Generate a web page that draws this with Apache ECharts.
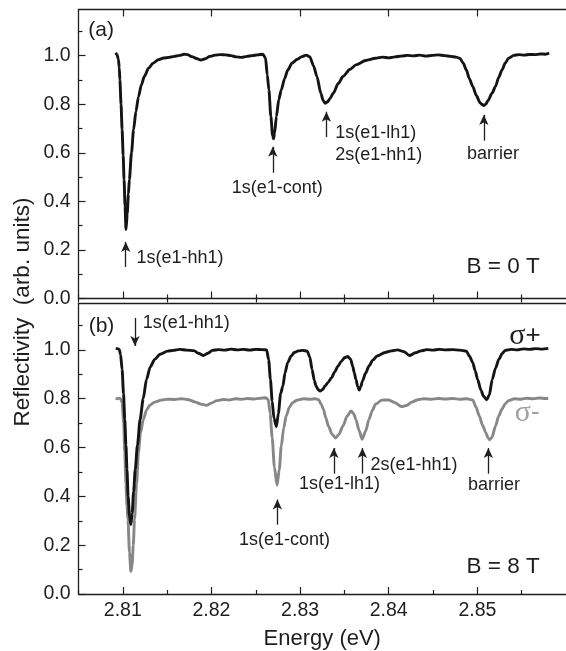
<!DOCTYPE html>
<html>
<head>
<meta charset="utf-8">
<script src="https://cdn.jsdelivr.net/npm/echarts@6/dist/echarts.min.js"></script>
<style>
  html, body { margin: 0; padding: 0; background: #ffffff; }
  #chart { width: 566px; height: 651px; }
</style>
</head>
<body>
<div id="chart"></div>
<script>
// Reflectivity spectra, B = 0 T (panel a)
const energyZero = [
  2.80920, 2.80935, 2.80950, 2.80960, 2.80967, 2.80980, 2.80992, 2.81004, 2.81014, 2.81025,
  2.81036, 2.81050, 2.81063, 2.81074, 2.81098, 2.81121, 2.81148, 2.81176, 2.81210, 2.81242,
  2.81290, 2.81341, 2.81400, 2.81460, 2.81520, 2.81580, 2.81640, 2.81690, 2.81730, 2.81780,
  2.81830, 2.81880, 2.81930, 2.81980, 2.82040, 2.82100, 2.82160, 2.82220, 2.82280, 2.82340,
  2.82400, 2.82460, 2.82520, 2.82580, 2.82610, 2.82630, 2.82648, 2.82670, 2.82690, 2.82700,
  2.82712, 2.82733, 2.82760, 2.82788, 2.82825, 2.82860, 2.82910, 2.82970, 2.83020, 2.83070,
  2.83110, 2.83150, 2.83190, 2.83234, 2.83260, 2.83282, 2.83310, 2.83340, 2.83374, 2.83430,
  2.83484, 2.83560, 2.83630, 2.83740, 2.83850, 2.83930, 2.84000, 2.84070, 2.84140, 2.84210,
  2.84280, 2.84350, 2.84420, 2.84490, 2.84560, 2.84630, 2.84700, 2.84760, 2.84802, 2.84840,
  2.84876, 2.84910, 2.84948, 2.84990, 2.85030, 2.85050, 2.85072, 2.85095, 2.85120, 2.85165,
  2.85205, 2.85240, 2.85278, 2.85315, 2.85352, 2.85410, 2.85470, 2.85530, 2.85590, 2.85650,
  2.85710, 2.85770, 2.85810
];
const reflZero = [
  1.012, 1.004, 0.985, 0.950, 0.900, 0.800, 0.695, 0.590, 0.490, 0.380,
  0.284, 0.350, 0.430, 0.490, 0.600, 0.695, 0.770, 0.830, 0.880, 0.914,
  0.948, 0.969, 0.983, 0.990, 0.993, 0.997, 1.001, 1.006, 1.004, 0.996,
  0.988, 0.982, 0.987, 0.997, 1.002, 1.004, 1.003, 1.000, 0.995, 0.993,
  0.997, 1.000, 1.003, 1.006, 0.990, 0.920, 0.859, 0.750, 0.670, 0.658,
  0.680, 0.750, 0.820, 0.859, 0.905, 0.940, 0.970, 0.985, 0.996, 1.002,
  0.995, 0.960, 0.914, 0.845, 0.815, 0.804, 0.810, 0.825, 0.845, 0.885,
  0.914, 0.943, 0.962, 0.980, 0.989, 0.994, 0.991, 0.995, 0.998, 1.001,
  0.999, 1.002, 0.998, 1.001, 1.003, 1.000, 0.997, 0.994, 0.989, 0.970,
  0.941, 0.905, 0.873, 0.835, 0.806, 0.800, 0.795, 0.800, 0.815, 0.845,
  0.873, 0.910, 0.941, 0.970, 0.989, 1.001, 1.004, 1.002, 1.005, 1.004,
  1.007, 1.006, 1.010
];

// B = 8 T, sigma+ polarisation (panel b, black)
const energyPlus = [
  2.80920, 2.80940, 2.80960, 2.80975, 2.80992, 2.81008, 2.81022, 2.81035, 2.81047, 2.81060,
  2.81075, 2.81091, 2.81105, 2.81122, 2.81140, 2.81165, 2.81195, 2.81230, 2.81267, 2.81310,
  2.81359, 2.81420, 2.81505, 2.81570, 2.81640, 2.81720, 2.81800, 2.81860, 2.81909, 2.81960,
  2.82010, 2.82080, 2.82150, 2.82220, 2.82290, 2.82360, 2.82430, 2.82500, 2.82570, 2.82623,
  2.82645, 2.82665, 2.82685, 2.82705, 2.82733, 2.82755, 2.82780, 2.82806, 2.82830, 2.82860,
  2.82900, 2.82934, 2.82980, 2.83030, 2.83080, 2.83110, 2.83135, 2.83160, 2.83180, 2.83205,
  2.83227, 2.83255, 2.83282, 2.83318, 2.83355, 2.83390, 2.83429, 2.83465, 2.83502, 2.83538,
  2.83570, 2.83593, 2.83612, 2.83630, 2.83650, 2.83667, 2.83685, 2.83703, 2.83740, 2.83777,
  2.83820, 2.83868, 2.83959, 2.84030, 2.84100, 2.84170, 2.84234, 2.84300, 2.84363, 2.84430,
  2.84500, 2.84570, 2.84640, 2.84720, 2.84800, 2.84876, 2.84910, 2.84948, 2.84975, 2.85003,
  2.85040, 2.85070, 2.85105, 2.85135, 2.85168, 2.85205, 2.85242, 2.85280, 2.85315, 2.85380,
  2.85450, 2.85520, 2.85590, 2.85660, 2.85730, 2.85800
];
const reflPlus = [
  1.006, 1.005, 1.002, 0.980, 0.920, 0.820, 0.715, 0.610, 0.510, 0.400,
  0.320, 0.285, 0.330, 0.420, 0.510, 0.610, 0.715, 0.800, 0.879, 0.930,
  0.961, 0.982, 0.995, 0.998, 1.002, 0.999, 0.997, 0.985, 0.977, 0.986,
  0.998, 1.001, 0.999, 1.003, 1.000, 1.002, 0.999, 1.002, 1.001, 1.000,
  0.960, 0.880, 0.790, 0.720, 0.686, 0.740, 0.820, 0.852, 0.905, 0.948,
  0.975, 0.989, 0.996, 0.998, 0.995, 0.970, 0.920, 0.875, 0.852, 0.837,
  0.831, 0.838, 0.852, 0.868, 0.886, 0.910, 0.934, 0.953, 0.968, 0.973,
  0.962, 0.934, 0.905, 0.879, 0.850, 0.835, 0.850, 0.872, 0.905, 0.934,
  0.958, 0.975, 0.989, 0.996, 1.000, 0.993, 0.977, 0.988, 0.996, 1.001,
  0.999, 1.002, 1.000, 1.001, 0.999, 0.995, 0.975, 0.948, 0.915, 0.879,
  0.835, 0.810, 0.796, 0.815, 0.879, 0.925, 0.961, 0.985, 0.998, 1.002,
  1.000, 1.004, 1.002, 1.005, 1.003, 1.006
];

// B = 8 T, sigma- polarisation (panel b, grey)
const energyMinus = [
  2.80920, 2.80940, 2.80960, 2.80975, 2.80992, 2.81010, 2.81022, 2.81035, 2.81047, 2.81058,
  2.81075, 2.81091, 2.81105, 2.81118, 2.81132, 2.81155, 2.81176, 2.81200, 2.81231, 2.81270,
  2.81304, 2.81360, 2.81432, 2.81505, 2.81580, 2.81660, 2.81740, 2.81820, 2.81880, 2.81945,
  2.82000, 2.82060, 2.82130, 2.82200, 2.82270, 2.82340, 2.82410, 2.82480, 2.82550, 2.82610,
  2.82641, 2.82662, 2.82685, 2.82710, 2.82740, 2.82765, 2.82788, 2.82815, 2.82843, 2.82880,
  2.82915, 2.82970, 2.83040, 2.83110, 2.83170, 2.83209, 2.83240, 2.83264, 2.83290, 2.83319,
  2.83360, 2.83400, 2.83440, 2.83484, 2.83530, 2.83575, 2.83605, 2.83630, 2.83665, 2.83700,
  2.83740, 2.83777, 2.83815, 2.83850, 2.83923, 2.84000, 2.84070, 2.84143, 2.84200, 2.84260,
  2.84330, 2.84400, 2.84480, 2.84560, 2.84640, 2.84720, 2.84800, 2.84880, 2.84948, 2.84985,
  2.85022, 2.85060, 2.85096, 2.85120, 2.85138, 2.85165, 2.85205, 2.85240, 2.85278, 2.85315,
  2.85352, 2.85420, 2.85490, 2.85560, 2.85630, 2.85700, 2.85770, 2.85800
];
const reflMinus = [
  0.803, 0.800, 0.802, 0.800, 0.784, 0.700, 0.579, 0.450, 0.360, 0.305,
  0.170, 0.093, 0.120, 0.200, 0.305, 0.450, 0.579, 0.660, 0.715, 0.755,
  0.773, 0.786, 0.794, 0.798, 0.797, 0.800, 0.796, 0.786, 0.778, 0.773,
  0.782, 0.792, 0.797, 0.795, 0.800, 0.798, 0.801, 0.799, 0.802, 0.804,
  0.797, 0.740, 0.640, 0.520, 0.445, 0.510, 0.606, 0.680, 0.729, 0.765,
  0.784, 0.795, 0.800, 0.798, 0.800, 0.796, 0.775, 0.756, 0.722, 0.688,
  0.655, 0.639, 0.655, 0.688, 0.728, 0.750, 0.738, 0.715, 0.670, 0.634,
  0.668, 0.715, 0.752, 0.777, 0.794, 0.795, 0.784, 0.768, 0.772, 0.786,
  0.796, 0.800, 0.798, 0.801, 0.799, 0.801, 0.798, 0.800, 0.795, 0.765,
  0.729, 0.690, 0.661, 0.640, 0.632, 0.642, 0.688, 0.728, 0.758, 0.780,
  0.792, 0.800, 0.798, 0.802, 0.800, 0.803, 0.801, 0.802
];

// Axis ticks
const energyTicks = [2.81, 2.82, 2.83, 2.84, 2.85];
const energyMinorTicks = [2.805, 2.815, 2.825, 2.835, 2.845, 2.855];
const reflTicks = [0.0, 0.2, 0.4, 0.6, 0.8, 1.0];
const reflMinorTicks = [0.1, 0.3, 0.5, 0.7, 0.9, 1.1];

// Arrows marking the transitions: [energy, from, to]
const arrowsZero = [
  [2.81033, 0.130, 0.233],
  [2.82692, 0.518, 0.625],
  [2.83297, 0.665, 0.769],
  [2.85073, 0.650, 0.756]
];
const arrowsEight = [
  [2.81137, 1.131, 1.016],
  [2.82744, 0.284, 0.387],
  [2.83381, 0.493, 0.598],
  [2.83703, 0.493, 0.598],
  [2.85124, 0.493, 0.598]
];

// Text annotations: [grid, text, energy, reflectivity, align, size, colour]
const notes = [
  [0, '(a)', 2.80610, 1.106, 'left', 21, '#1e1e1e'],
  [0, '1s(e1-hh1)', 2.81154, 0.167, 'left', 18, '#1e1e1e'],
  [0, '1s(e1-cont)', 2.82742, 0.455, 'center', 18, '#1e1e1e'],
  [0, '1s(e1-lh1)', 2.83396, 0.682, 'left', 18, '#1e1e1e'],
  [0, '2s(e1-hh1)', 2.83396, 0.591, 'left', 18, '#1e1e1e'],
  [0, 'barrier', 2.85176, 0.595, 'center', 18, '#1e1e1e'],
  [0, 'B = 0 T', 2.85703, 0.130, 'right', 22.5, '#1e1e1e'],
  [1, '(b)', 2.80615, 1.098, 'left', 21, '#1e1e1e'],
  [1, '1s(e1-hh1)', 2.81224, 1.110, 'left', 18, '#1e1e1e'],
  [1, '1s(e1-cont)', 2.82824, 0.223, 'center', 18, '#1e1e1e'],
  [1, '1s(e1-lh1)', 2.83445, 0.452, 'center', 18, '#1e1e1e'],
  [1, '2s(e1-hh1)', 2.83795, 0.530, 'left', 18, '#1e1e1e'],
  [1, 'barrier', 2.85187, 0.445, 'center', 18, '#1e1e1e'],
  [1, 'B = 8 T', 2.85703, 0.112, 'right', 22.5, '#1e1e1e']
];

// Polarisation labels: [symbol, sign, energy, reflectivity, colour]
const polarisationLabels = [
  ['σ', '+', 2.85714, 1.057, '#1e1e1e'],
  ['σ', '-', 2.85703, 0.742, '#a0a0a0']
];

const FONT = 'Liberation Sans, Arial, Helvetica, sans-serif';
const SERIF = 'Liberation Serif, Times New Roman, serif';
const INK = '#1e1e1e';
const zip = (xs, ys) => xs.map((x, i) => [x, ys[i]]);

const gridBoxes = [
  { left: 78.5, top: 9.5, width: 500.5, height: 289 },
  { left: 78.5, top: 303.5, width: 500.5, height: 291 }
];

function energyAxes(gridIndex, withLabels, topTicks) {
  const base = {
    type: 'value', gridIndex, min: 2.805, max: 2.86,
    splitLine: { show: false }
  };
  const line = { show: true, onZero: false, lineStyle: { color: INK, width: 1.3 } };
  return [
    Object.assign({}, base, {
      position: 'bottom', axisLine: line,
      axisTick: { show: true, inside: true, length: 7, customValues: energyTicks, lineStyle: { color: INK, width: 1.2 } },
      axisLabel: withLabels ? {
        show: true, customValues: energyTicks, margin: 7, fontSize: 19.5, fontFamily: FONT, color: INK,
        formatter: v => v.toFixed(2)
      } : { show: false },
      name: withLabels ? 'Energy (eV)' : '', nameLocation: 'middle', nameGap: 34,
      nameTextStyle: { fontSize: 22, fontFamily: FONT, color: INK }
    }),
    Object.assign({}, base, {
      position: 'bottom', axisLine: { show: false },
      axisTick: { show: true, inside: true, length: 4, customValues: energyMinorTicks, lineStyle: { color: INK, width: 1.2 } },
      axisLabel: { show: false }
    }),
    Object.assign({}, base, {
      position: 'top', axisLine: line,
      axisTick: { show: topTicks, inside: true, length: 7, customValues: energyTicks, lineStyle: { color: INK, width: 1.2 } },
      axisLabel: { show: false }
    }),
    Object.assign({}, base, {
      position: 'top', axisLine: { show: false },
      axisTick: { show: topTicks, inside: true, length: 4, customValues: energyMinorTicks, lineStyle: { color: INK, width: 1.2 } },
      axisLabel: { show: false }
    })
  ];
}

function reflAxes(gridIndex) {
  const base = { type: 'value', gridIndex, min: 0, max: 1.19, splitLine: { show: false }, position: 'left' };
  return [
    Object.assign({}, base, {
      axisLine: { show: true, onZero: false, lineStyle: { color: INK, width: 1.3 } },
      axisTick: { show: true, inside: true, length: 7, customValues: reflTicks, lineStyle: { color: INK, width: 1.2 } },
      axisLabel: {
        show: true, customValues: reflTicks, margin: 8, fontSize: 19.5, fontFamily: FONT, color: INK,
        formatter: v => v.toFixed(1)
      }
    }),
    Object.assign({}, base, {
      axisLine: { show: false },
      axisTick: { show: true, inside: true, length: 4, customValues: reflMinorTicks, lineStyle: { color: INK, width: 1.2 } },
      axisLabel: { show: false }
    })
  ];
}

const xAxes = energyAxes(0, false, true).concat(energyAxes(1, true, false));
const yAxes = reflAxes(0).concat(reflAxes(1));

function arrowLines(list) {
  return {
    silent: true,
    symbol: ['none', 'arrow'],
    symbolSize: [7, 10],
    animation: false,
    label: { show: false },
    emphasis: { disabled: true },
    lineStyle: { color: INK, width: 1.3, type: 'solid' },
    data: list.map(a => [{ coord: [a[0], a[1]] }, { coord: [a[0], a[2]] }])
  };
}

function spectrum(name, xs, ys, xIdx, yIdx, color, arrows) {
  const s = {
    name, type: 'line', xAxisIndex: xIdx, yAxisIndex: yIdx,
    data: zip(xs, ys), showSymbol: false, symbol: 'none',
    smooth: 0.25, smoothMonotone: 'x',
    lineStyle: { color, width: 2.9 },
    itemStyle: { color },
    animation: false, silent: true, z: 3
  };
  if (arrows) s.markLine = arrowLines(arrows);
  return s;
}

const chart = echarts.init(document.getElementById('chart'), null, { renderer: 'canvas' });
chart.setOption({
  backgroundColor: '#ffffff',
  animation: false,
  grid: gridBoxes,
  xAxis: xAxes,
  yAxis: yAxes,
  series: [
    spectrum('B = 0 T', energyZero, reflZero, 0, 0, '#141414', arrowsZero),
    spectrum('σ-', energyMinus, reflMinus, 4, 2, '#878787', null),
    spectrum('σ+', energyPlus, reflPlus, 4, 2, '#141414', arrowsEight)
  ]
});

// Place annotation text in data coordinates
const texts = notes.map(n => {
  const p = chart.convertToPixel({ gridIndex: n[0] }, [n[2], n[3]]);
  return {
    type: 'text', x: p[0], y: p[1], silent: true, z: 10,
    style: {
      text: n[1], fill: n[6], fontSize: n[5], fontFamily: FONT,
      align: n[4], verticalAlign: 'middle'
    }
  };
});
polarisationLabels.forEach(l => {
  const p = chart.convertToPixel({ gridIndex: 1 }, [l[2], l[3]]);
  texts.push({
    type: 'text', x: p[0], y: p[1], silent: true, z: 10,
    style: {
      text: '{s|' + l[0] + '}{p|' + l[1] + '}', align: 'right', verticalAlign: 'middle',
      rich: {
        s: { fontFamily: SERIF, fontSize: 30, fill: l[4] },
        p: { fontFamily: FONT, fontSize: 26, fill: l[4] }
      }
    }
  });
});
texts.push({
  type: 'text', x: 23, y: 312, rotation: Math.PI / 2, silent: true, z: 10,
  style: {
    text: 'Reflectivity  (arb. units)', fill: INK, fontSize: 22.5, fontFamily: FONT,
    align: 'center', verticalAlign: 'middle'
  }
});
chart.setOption({ graphic: texts });
</script>
</body>
</html>
